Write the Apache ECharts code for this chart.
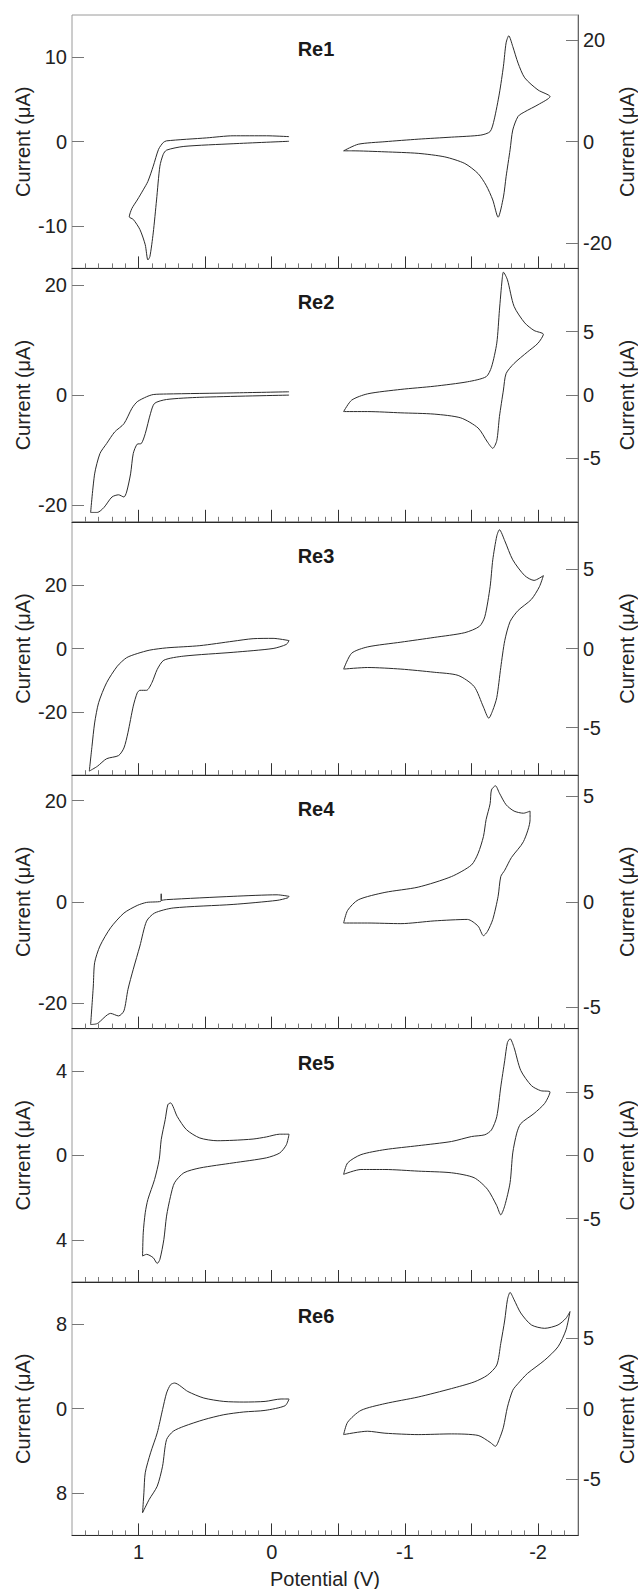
<!DOCTYPE html>
<html lang="en">
<head>
<meta charset="UTF-8" />
<title>Cyclic voltammograms Re1 - Re6</title>
<script src="https://cdn.jsdelivr.net/npm/echarts@6/dist/echarts.min.js"></script>
<style>
  html, body { margin: 0; padding: 0; background: #fff; }
  #chart { width: 638px; height: 1589px; }
</style>
</head>
<body>
<div id="chart"></div>
<script>
  // panel names
  const panelNames = ['Re1', 'Re2', 'Re3', 'Re4', 'Re5', 'Re6'];

  // oxidation loops (left axis), [potential V, current uA]
  const ox1 = [[-0.13,0.6],[0.04,0.7],[0.29,0.7],[0.49,0.45],[0.79,0.1],[0.815,-0.1],[0.85,-0.9],[0.89,-2.9],[0.93,-4.7],[0.965,-5.7],[1.01,-6.9],[1.05,-7.9],[1.07,-8.9],[1.04,-9.2],[0.99,-10.4],[0.95,-12.2],[0.93,-14.0],[0.915,-13.6],[0.89,-10.8],[0.865,-6.9],[0.84,-2.9],[0.815,-1.5],[0.79,-1.0],[0.66,-0.56],[0.29,-0.24],[-0.13,0.05]];
  const ox2 = [[-0.13,0.6],[0.29,0.4],[0.79,0.2],[0.89,0.1],[0.94,-0.3],[1.01,-1.2],[1.05,-2.4],[1.11,-5.2],[1.18,-6.7],[1.24,-8.8],[1.29,-10.6],[1.33,-14.3],[1.36,-21.3],[1.31,-21.3],[1.26,-20.4],[1.20,-18.5],[1.15,-18.1],[1.11,-18.5],[1.09,-17.6],[1.06,-14.3],[1.04,-10.6],[1.01,-8.9],[0.98,-8.8],[0.95,-7.0],[0.91,-3.3],[0.88,-1.5],[0.79,-0.8],[0.54,-0.4],[-0.13,0]];
  const ox3 = [[-0.13,2.5],[-0.01,3.2],[0.14,3.1],[0.29,2.3],[0.54,0.9],[0.79,0.2],[0.915,-0.5],[1.01,-1.6],[1.09,-2.9],[1.16,-5.6],[1.24,-10.8],[1.30,-17.1],[1.33,-23.5],[1.35,-30.9],[1.37,-38.7],[1.31,-37.2],[1.24,-34.8],[1.15,-33.8],[1.11,-31.4],[1.08,-26.6],[1.04,-18.2],[1.01,-14.0],[0.99,-13.2],[0.94,-13.2],[0.90,-10.8],[0.86,-6.6],[0.81,-3.7],[0.66,-2.4],[0.29,-1.2],[-0.01,0],[-0.11,1.3],[-0.13,2.5]];
  const ox4 = [[-0.13,1.1],[-0.04,1.4],[0.29,1.1],[0.79,0.45],[0.83,0.3],[0.83,1.6],[0.83,0.2],[0.94,-0.1],[1.01,-0.7],[1.11,-2.2],[1.21,-5.1],[1.29,-8.7],[1.33,-12.0],[1.34,-16.6],[1.36,-24.2],[1.31,-24.0],[1.21,-22.0],[1.15,-22.5],[1.11,-21.5],[1.08,-17.3],[1.04,-13.3],[0.99,-8.7],[0.94,-3.8],[0.88,-2.2],[0.74,-1.2],[0.29,-0.5],[-0.04,0.3],[-0.12,0.8],[-0.13,1.1]];
  const ox5 = [[-0.13,1.0],[-0.06,1.0],[0.04,0.87],[0.14,0.77],[0.29,0.71],[0.41,0.69],[0.54,0.82],[0.64,1.21],[0.71,1.84],[0.76,2.48],[0.78,2.4],[0.80,1.69],[0.83,0.74],[0.845,-0.2],[0.88,-1.15],[0.93,-2.09],[0.95,-2.72],[0.965,-3.67],[0.97,-4.77],[0.94,-4.69],[0.89,-4.85],[0.86,-5.12],[0.84,-4.93],[0.81,-3.98],[0.79,-2.88],[0.76,-1.94],[0.73,-1.3],[0.66,-0.83],[0.54,-0.6],[0.29,-0.36],[0.04,-0.12],[-0.06,0.11],[-0.11,0.5],[-0.13,1.0]];
  const ox6 = [[-0.13,0.92],[-0.07,0.92],[0.05,0.69],[0.21,0.63],[0.36,0.69],[0.51,1.01],[0.63,1.63],[0.73,2.43],[0.76,2.27],[0.79,1.48],[0.82,-0.09],[0.86,-2.29],[0.91,-4.18],[0.95,-6.07],[0.96,-7.96],[0.97,-9.85],[0.92,-8.59],[0.86,-7.34],[0.82,-5.45],[0.79,-2.93],[0.74,-2.14],[0.66,-1.67],[0.51,-1.04],[0.36,-0.57],[0.21,-0.31],[0.05,-0.16],[-0.10,0.28],[-0.13,0.9]];

  // reduction loops (right axis)
  const red1 = [[-0.54,-1.8],[-0.65,-0.5],[-0.85,0],[-1.10,0.5],[-1.35,0.9],[-1.57,1.3],[-1.64,2.0],[-1.67,4.3],[-1.71,9.6],[-1.74,14.9],[-1.76,19.5],[-1.78,20.9],[-1.81,18.8],[-1.85,15.5],[-1.90,12.6],[-2.00,10.2],[-2.09,8.9],[-2.00,7.3],[-1.90,5.9],[-1.85,5.0],[-1.81,2.3],[-1.79,-1.6],[-1.76,-6.9],[-1.74,-10.9],[-1.70,-14.9],[-1.66,-11.5],[-1.61,-8.6],[-1.55,-6.3],[-1.45,-4.3],[-1.30,-3.0],[-1.10,-2.3],[-0.85,-2.0],[-0.60,-1.8],[-0.54,-1.8]];
  const red2 = [[-0.54,-1.3],[-0.60,-0.4],[-0.72,0.1],[-0.97,0.45],[-1.22,0.7],[-1.47,1.05],[-1.61,1.45],[-1.65,2.2],[-1.69,4.1],[-1.71,6.7],[-1.73,9.1],[-1.74,9.7],[-1.77,9.1],[-1.82,7.0],[-1.90,5.7],[-1.97,5.1],[-2.04,4.8],[-2.00,4.1],[-1.92,3.4],[-1.82,2.5],[-1.76,1.7],[-1.74,0.4],[-1.71,-1.7],[-1.69,-3.6],[-1.66,-4.2],[-1.62,-3.7],[-1.55,-2.6],[-1.42,-1.8],[-1.22,-1.5],[-0.97,-1.4],[-0.72,-1.3],[-0.54,-1.3]];
  const red3 = [[-0.54,-1.3],[-0.60,-0.3],[-0.72,0.1],[-0.97,0.4],[-1.22,0.7],[-1.45,1.0],[-1.56,1.4],[-1.60,2.0],[-1.64,3.9],[-1.66,5.6],[-1.69,7.1],[-1.71,7.5],[-1.75,6.8],[-1.81,5.6],[-1.90,4.6],[-1.97,4.3],[-2.04,4.6],[-2.01,3.9],[-1.95,3.1],[-1.85,2.4],[-1.79,1.7],[-1.75,0.5],[-1.72,-1.2],[-1.69,-3.1],[-1.66,-3.9],[-1.63,-4.4],[-1.59,-3.7],[-1.52,-2.4],[-1.40,-1.7],[-1.22,-1.5],[-0.97,-1.3],[-0.72,-1.2],[-0.54,-1.3]];
  const red4 = [[-0.54,-1.0],[-0.57,-0.4],[-0.65,0.1],[-0.85,0.45],[-1.10,0.7],[-1.35,1.2],[-1.50,1.75],[-1.55,2.3],[-1.59,3.1],[-1.61,3.9],[-1.64,4.65],[-1.65,5.3],[-1.68,5.5],[-1.71,5.15],[-1.76,4.6],[-1.82,4.3],[-1.89,4.2],[-1.94,4.3],[-1.94,3.9],[-1.89,2.85],[-1.80,2.1],[-1.75,1.5],[-1.72,1.2],[-1.70,0.26],[-1.66,-0.83],[-1.62,-1.4],[-1.59,-1.6],[-1.55,-1.15],[-1.47,-0.83],[-1.22,-0.9],[-0.97,-1.03],[-0.72,-1.0],[-0.54,-1.0]];
  const red5 = [[-0.54,-1.5],[-0.57,-0.6],[-0.67,0.05],[-0.85,0.45],[-1.10,0.76],[-1.35,1.09],[-1.50,1.48],[-1.60,1.62],[-1.65,2.0],[-1.69,3.05],[-1.72,5.4],[-1.75,7.5],[-1.77,8.9],[-1.79,9.2],[-1.82,8.5],[-1.87,6.7],[-1.95,5.5],[-2.02,5.1],[-2.09,5.0],[-2.05,4.1],[-1.97,3.3],[-1.87,2.5],[-1.84,1.75],[-1.81,0.19],[-1.79,-2.16],[-1.75,-3.98],[-1.72,-4.7],[-1.69,-3.98],[-1.62,-2.68],[-1.52,-1.77],[-1.35,-1.38],[-1.10,-1.25],[-0.85,-1.12],[-0.67,-1.12],[-0.54,-1.5]];
  const red6 = [[-0.54,-1.84],[-0.57,-0.96],[-0.67,-0.12],[-0.85,0.36],[-1.10,0.83],[-1.35,1.43],[-1.52,1.9],[-1.62,2.38],[-1.69,3.1],[-1.72,4.64],[-1.75,6.3],[-1.77,7.74],[-1.79,8.26],[-1.82,7.74],[-1.87,6.8],[-1.95,5.95],[-2.05,5.71],[-2.15,5.95],[-2.21,6.43],[-2.24,6.9],[-2.21,5.6],[-2.15,4.4],[-2.05,3.45],[-1.92,2.5],[-1.85,1.79],[-1.81,1.31],[-1.77,0.11],[-1.74,-1.31],[-1.71,-2.14],[-1.68,-2.67],[-1.64,-2.39],[-1.55,-1.9],[-1.35,-1.79],[-1.10,-1.84],[-0.85,-1.74],[-0.72,-1.6],[-0.54,-1.84]];

  const oxLoops = [ox1, ox2, ox3, ox4, ox5, ox6];
  const redLoops = [red1, red2, red3, red4, red5, red6];

  // axis ranges (symmetric) and tick labels
  const leftRange = [15, 23, 40, 25, 6, 12];
  const rightRange = [25, 10, 8, 6, 10, 9];
  const leftTicks = [[-10, 0, 10], [-20, 0, 20], [-20, 0, 20], [-20, 0, 20], [-4, 0, 4], [-8, 0, 8]];
  const leftTickText = [['-10', '0', '10'], ['-20', '0', '20'], ['-20', '0', '20'], ['-20', '0', '20'], ['4', '0', '4'], ['8', '0', '8']];
  const rightTicks = [[-20, 0, 20], [-5, 0, 5], [-5, 0, 5], [-5, 0, 5], [-5, 0, 5], [-5, 0, 5]];
  const xMin = -2.3, xMax = 1.5;
  const majorTicks = [-2, -1.5, -1, -0.5, 0, 0.5, 1];
  const minorTicks = [-2.2, -2.1, -2.0, -1.9, -1.8, -1.7, -1.6, -1.5, -1.4, -1.3, -1.2, -1.1, -1.0, -0.9, -0.8, -0.7, -0.6, -0.5, -0.4, -0.3, -0.2, -0.1, 0, 0.1, 0.2, 0.3, 0.4, 0.5, 0.6, 0.7, 0.8, 0.9, 1.0, 1.1, 1.2, 1.3, 1.4];
  const xLabelValues = [-2, -1, 0, 1];

  const FONT = 'Liberation Sans, Arial, sans-serif';
  const chart = echarts.init(document.getElementById('chart'), null, { renderer: 'svg' });

  const panelTop = 15, panelH = 253.4;
  const grids = [], xAxes = [], yAxes = [], series = [], graphics = [];

  panelNames.forEach((name, i) => {
    const top = panelTop + i * panelH;
    const last = i === panelNames.length - 1;
    grids.push({
      left: 72, width: 506, top: top, height: panelH,
      outerBoundsMode: 'none', containLabel: false,
      show: true, borderColor: '#9a9a9a', borderWidth: 1, backgroundColor: 'transparent'
    });
    // minor ticks + dark bottom line
    xAxes.push({
      gridIndex: i, type: 'value', inverse: true, min: xMin, max: xMax,
      axisLine: { show: true, onZero: false, lineStyle: { color: '#2a2a2a', width: 1 } },
      axisTick: { show: true, inside: true, length: 5, customValues: minorTicks, lineStyle: { color: '#777' } },
      axisLabel: { show: false },
      splitLine: { show: false }
    });
    // major ticks, labels on bottom panel only
    xAxes.push({
      gridIndex: i, type: 'value', inverse: true, min: xMin, max: xMax, position: 'bottom',
      axisLine: { show: false, onZero: false },
      axisTick: { show: true, inside: true, length: 12, customValues: majorTicks, lineStyle: { color: '#333' } },
      axisLabel: {
        show: last, customValues: xLabelValues, margin: 7,
        fontFamily: FONT, fontSize: 20, color: '#222'
      },
      splitLine: { show: false },
      name: last ? 'Potential (V)' : '',
      nameLocation: 'middle', nameGap: 34, nameMoveOverlap: false,
      nameTextStyle: { fontFamily: FONT, fontSize: 20, color: '#222' }
    });
    const lt = leftTicks[i], ltt = leftTickText[i];
    yAxes.push({
      gridIndex: i, type: 'value', position: 'left',
      min: -leftRange[i], max: leftRange[i],
      axisLine: { show: false, onZero: false },
      axisTick: { show: true, inside: true, length: 12, customValues: lt, lineStyle: { color: '#777' } },
      axisLabel: {
        customValues: lt, margin: 5, fontFamily: FONT, fontSize: 20, color: '#222',
        formatter: v => ltt[lt.indexOf(v)] !== undefined ? ltt[lt.indexOf(v)] : String(v)
      },
      splitLine: { show: false },
      name: 'Current (\u03bcA)', nameLocation: 'middle', nameRotate: 90, nameGap: 49,
      nameMoveOverlap: false,
      nameTextStyle: { fontFamily: FONT, fontSize: 20, color: '#222', verticalAlign: 'middle' }
    });
    yAxes.push({
      gridIndex: i, type: 'value', position: 'right',
      min: -rightRange[i], max: rightRange[i],
      axisLine: { show: true, onZero: false, lineStyle: { color: '#666' } },
      axisTick: { show: true, inside: true, length: 12, customValues: rightTicks[i], lineStyle: { color: '#777' } },
      axisLabel: { customValues: rightTicks[i], margin: 5, fontFamily: FONT, fontSize: 20, color: '#222' },
      splitLine: { show: false },
      name: 'Current (\u03bcA)', nameLocation: 'middle', nameRotate: 90, nameGap: 49,
      nameMoveOverlap: false,
      nameTextStyle: { fontFamily: FONT, fontSize: 20, color: '#222', verticalAlign: 'middle' }
    });
    series.push({
      type: 'line', xAxisIndex: 2 * i, yAxisIndex: 2 * i, data: oxLoops[i],
      showSymbol: false, symbol: 'none', smooth: 0.25,
      lineStyle: { color: '#2b2b2b', width: 1 }, silent: true
    });
    series.push({
      type: 'line', xAxisIndex: 2 * i, yAxisIndex: 2 * i + 1, data: redLoops[i],
      showSymbol: false, symbol: 'none', smooth: 0.25,
      lineStyle: { color: '#2b2b2b', width: 1 }, silent: true
    });
    graphics.push({
      type: 'text', x: 316, y: top + 34,
      style: {
        text: name, font: 'bold 20px ' + FONT, fill: '#1a1a1a',
        align: 'center', verticalAlign: 'middle', textAlign: 'center', textVerticalAlign: 'middle'
      }
    });
  });

  chart.setOption({
    animation: false,
    backgroundColor: '#fff',
    grid: grids,
    xAxis: xAxes,
    yAxis: yAxes,
    series: series,
    graphic: graphics
  });
</script>
</body>
</html>
